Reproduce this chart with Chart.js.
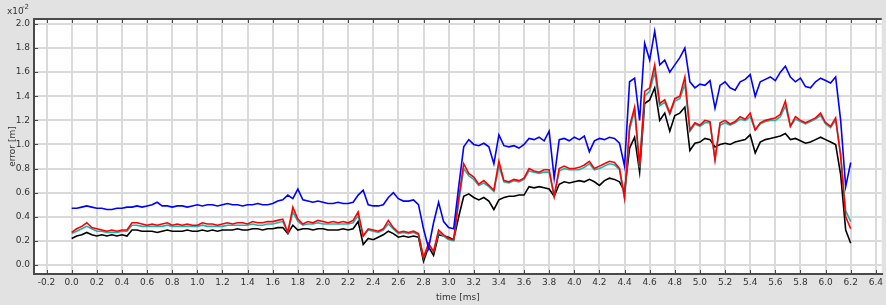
<!DOCTYPE html>
<html>
<head>
<meta charset="utf-8">
<script src="https://cdn.jsdelivr.net/npm/chart.js"></script>
<style>
  html, body { margin: 0; padding: 0; background: #e2e2e2; }
  canvas { display: block; }
</style>
</head>
<body>
<canvas id="myChart" width="886" height="305"></canvas>
<script>
// time [ms]
const time = [
  0.00,0.04,0.08,0.12,0.16,0.20,0.24,0.28,0.32,0.36,
  0.40,0.44,0.48,0.52,0.56,0.60,0.64,0.68,0.72,0.76,
  0.80,0.84,0.88,0.92,0.96,1.00,1.04,1.08,1.12,1.16,
  1.20,1.24,1.28,1.32,1.36,1.40,1.44,1.48,1.52,1.56,
  1.60,1.64,1.68,1.72,1.76,1.80,1.84,1.88,1.92,1.96,
  2.00,2.04,2.08,2.12,2.16,2.20,2.24,2.28,2.32,2.36,
  2.40,2.44,2.48,2.52,2.56,2.60,2.64,2.68,2.72,2.76,
  2.80,2.84,2.88,2.92,2.96,3.00,3.04,3.08,3.12,3.16,
  3.20,3.24,3.28,3.32,3.36,3.40,3.44,3.48,3.52,3.56,
  3.60,3.64,3.68,3.72,3.76,3.80,3.84,3.88,3.92,3.96,
  4.00,4.04,4.08,4.12,4.16,4.20,4.24,4.28,4.32,4.36,
  4.40,4.44,4.48,4.52,4.56,4.60,4.64,4.68,4.72,4.76,
  4.80,4.84,4.88,4.92,4.96,5.00,5.04,5.08,5.12,5.16,
  5.20,5.24,5.28,5.32,5.36,5.40,5.44,5.48,5.52,5.56,
  5.60,5.64,5.68,5.72,5.76,5.80,5.84,5.88,5.92,5.96,
  6.00,6.04,6.08,6.12,6.16,6.20
]

// error [m] x10^-2
const blueErr = [
  0.47,0.47,0.48,0.49,0.48,0.47,0.47,0.46,0.46,0.47,
  0.47,0.48,0.48,0.49,0.48,0.49,0.50,0.52,0.49,0.49,
  0.48,0.49,0.49,0.48,0.49,0.50,0.49,0.50,0.50,0.49,
  0.50,0.51,0.50,0.50,0.49,0.50,0.50,0.51,0.50,0.50,
  0.51,0.53,0.54,0.58,0.55,0.63,0.54,0.53,0.52,0.53,
  0.52,0.51,0.51,0.52,0.51,0.51,0.52,0.58,0.62,0.50,
  0.49,0.49,0.50,0.56,0.60,0.55,0.53,0.53,0.54,0.50,
  0.30,0.14,0.35,0.52,0.36,0.31,0.30,0.65,0.98,1.04,
  1.00,0.99,1.01,0.98,0.84,1.08,0.99,0.98,0.99,0.97,
  1.00,1.05,1.04,1.06,1.03,1.11,0.72,1.04,1.05,1.03,
  1.06,1.04,1.07,0.94,1.03,1.05,1.04,1.06,1.05,1.01,
  0.82,1.52,1.55,1.20,1.84,1.70,1.94,1.66,1.70,1.60,
  1.66,1.72,1.80,1.52,1.47,1.50,1.49,1.53,1.30,1.49,
  1.52,1.47,1.45,1.52,1.54,1.58,1.40,1.52,1.54,1.56,
  1.53,1.60,1.65,1.56,1.52,1.55,1.48,1.47,1.52,1.55,
  1.53,1.51,1.56,1.20,0.65,0.85
]

const redErr = [
  0.27,0.30,0.32,0.35,0.31,0.30,0.29,0.28,0.29,0.28,
  0.29,0.29,0.35,0.35,0.34,0.33,0.34,0.33,0.34,0.35,
  0.33,0.34,0.33,0.34,0.33,0.33,0.35,0.34,0.34,0.33,
  0.34,0.35,0.34,0.35,0.35,0.34,0.36,0.35,0.35,0.36,
  0.36,0.37,0.38,0.27,0.48,0.38,0.34,0.36,0.35,0.37,
  0.36,0.35,0.36,0.35,0.36,0.35,0.37,0.44,0.24,0.30,
  0.29,0.28,0.30,0.37,0.31,0.27,0.28,0.27,0.28,0.26,
  0.06,0.18,0.11,0.29,0.25,0.22,0.21,0.55,0.84,0.76,
  0.73,0.67,0.70,0.66,0.62,0.86,0.70,0.69,0.71,0.70,
  0.72,0.80,0.78,0.77,0.79,0.79,0.57,0.80,0.82,0.80,
  0.80,0.81,0.83,0.86,0.80,0.82,0.84,0.86,0.85,0.80,
  0.56,1.15,1.31,0.82,1.44,1.47,1.66,1.34,1.37,1.26,
  1.38,1.40,1.56,1.12,1.18,1.16,1.20,1.19,0.87,1.18,
  1.20,1.17,1.19,1.23,1.21,1.26,1.12,1.18,1.20,1.21,
  1.22,1.25,1.36,1.15,1.23,1.20,1.18,1.20,1.22,1.26,
  1.18,1.15,1.22,0.90,0.40,0.30
]

const tealErr = [
  0.26,0.28,0.30,0.32,0.30,0.28,0.28,0.27,0.27,0.27,
  0.28,0.28,0.33,0.33,0.32,0.32,0.32,0.32,0.32,0.33,
  0.32,0.32,0.32,0.32,0.32,0.32,0.33,0.32,0.32,0.32,
  0.32,0.33,0.33,0.33,0.33,0.33,0.34,0.33,0.33,0.34,
  0.34,0.35,0.36,0.27,0.44,0.36,0.33,0.34,0.34,0.35,
  0.34,0.34,0.34,0.34,0.34,0.34,0.35,0.41,0.24,0.29,
  0.28,0.27,0.29,0.34,0.30,0.26,0.27,0.26,0.27,0.25,
  0.06,0.17,0.11,0.27,0.24,0.21,0.20,0.52,0.80,0.74,
  0.71,0.66,0.68,0.65,0.61,0.82,0.69,0.68,0.70,0.69,
  0.71,0.78,0.77,0.76,0.77,0.77,0.57,0.78,0.80,0.79,
  0.79,0.79,0.81,0.84,0.79,0.80,0.82,0.84,0.83,0.79,
  0.55,1.12,1.28,0.81,1.40,1.44,1.60,1.32,1.35,1.25,
  1.36,1.38,1.50,1.11,1.17,1.15,1.18,1.18,0.88,1.16,
  1.18,1.16,1.18,1.21,1.20,1.23,1.12,1.17,1.19,1.20,
  1.20,1.23,1.32,1.15,1.21,1.19,1.17,1.19,1.21,1.24,
  1.17,1.14,1.20,0.92,0.45,0.36
]

const blackErr = [
  0.22,0.24,0.25,0.27,0.25,0.24,0.25,0.24,0.25,0.24,
  0.25,0.24,0.29,0.29,0.28,0.28,0.28,0.27,0.28,0.29,
  0.28,0.28,0.28,0.29,0.28,0.28,0.29,0.28,0.29,0.28,
  0.29,0.29,0.29,0.30,0.29,0.29,0.30,0.30,0.29,0.30,
  0.30,0.31,0.31,0.26,0.33,0.29,0.30,0.30,0.29,0.30,
  0.30,0.29,0.29,0.29,0.30,0.29,0.30,0.36,0.17,0.22,
  0.21,0.23,0.25,0.28,0.26,0.23,0.24,0.23,0.24,0.23,
  0.03,0.15,0.08,0.25,0.24,0.23,0.21,0.40,0.57,0.59,
  0.56,0.54,0.56,0.53,0.46,0.54,0.56,0.57,0.57,0.58,
  0.58,0.65,0.64,0.65,0.64,0.63,0.57,0.67,0.69,0.68,
  0.69,0.70,0.69,0.71,0.69,0.66,0.70,0.72,0.71,0.69,
  0.61,0.97,1.06,0.77,1.34,1.37,1.47,1.20,1.26,1.11,
  1.24,1.26,1.31,0.95,1.01,1.02,1.05,1.04,0.98,1.00,
  1.01,1.00,1.02,1.03,1.04,1.08,0.93,1.02,1.04,1.05,
  1.06,1.07,1.09,1.04,1.05,1.03,1.01,1.02,1.04,1.06,
  1.04,1.02,1.00,0.75,0.29,0.18
]

const xTicks = [-0.2,0.0,0.2,0.4,0.6,0.8,1.0,1.2,1.4,1.6,1.8,2.0,2.2,2.4,2.6,2.8,3.0,3.2,3.4,3.6,3.8,4.0,4.2,4.4,4.6,4.8,5.0,5.2,5.4,5.6,5.8,6.0,6.2,6.4]
const yTicks = [0.0,0.2,0.4,0.6,0.8,1.0,1.2,1.4,1.6,1.8,2.0]

const toPoints = arr => time.map((t, i) => ({ x: t, y: arr[i] }))

const tickFont = { family: 'DejaVu Sans', size: 9 }
const axisColor = '#4a4a4a'

// gray background, white plot, top axis + inner tick marks, x10^-2
const framePlugin = {
  id: 'frame',
  beforeDraw(chart) {
    const ctx = chart.ctx
    const a = chart.chartArea
    ctx.save()
    ctx.fillStyle = '#e2e2e2'
    ctx.fillRect(0, 0, chart.width, chart.height)
    ctx.fillStyle = '#ffffff'
    ctx.fillRect(a.left, a.top, a.right - a.left, a.bottom - a.top)
    ctx.restore()
  },
  afterDraw(chart) {
    const ctx = chart.ctx
    const a = chart.chartArea
    const xs = chart.scales.x
    const ys = chart.scales.y
    ctx.save()
    ctx.strokeStyle = axisColor
    ctx.lineWidth = 2
    ctx.beginPath()
    ctx.moveTo(a.left, a.top)
    ctx.lineTo(a.right, a.top)
    ctx.stroke()
    ctx.lineWidth = 1
    ctx.beginPath()
    xTicks.forEach(v => {
      const px = Math.round(xs.getPixelForValue(v)) + 0.5
      ctx.moveTo(px, a.bottom)
      ctx.lineTo(px, a.bottom - 4)
      ctx.moveTo(px, a.top)
      ctx.lineTo(px, a.top + 4)
    })
    yTicks.forEach(v => {
      const py = Math.round(ys.getPixelForValue(v)) + 0.5
      ctx.moveTo(a.left, py)
      ctx.lineTo(a.left + 4, py)
    })
    ctx.stroke()

    ctx.fillStyle = '#333'
    ctx.textBaseline = 'alphabetic'
    ctx.font = '9px "DejaVu Sans"'
    ctx.fillText('x10', 7, 14)
    ctx.font = '7px "DejaVu Sans"'
    ctx.fillText('-2', 22, 9)
    ctx.restore()
  }
}

const ctx = document.querySelector('#myChart').getContext('2d')

const myChart = new Chart(ctx, {
  type: 'line',
  data: {
    datasets: [
      { label: 'blue', data: toPoints(blueErr), borderColor: '#0000ff' },
      { label: 'red', data: toPoints(redErr), borderColor: '#ff0000' },
      { label: 'teal', data: toPoints(tealErr), borderColor: '#1fb0b0' },
      { label: 'black', data: toPoints(blackErr), borderColor: '#000000' }
    ]
  },
  options: {
    responsive: false,
    animation: false,
    datasets: {
      line: { borderWidth: 1.6, pointRadius: 0, tension: 0, fill: false }
    },
    layout: { padding: { top: 19, right: 0, left: 0, bottom: 0 } },
    plugins: {
      legend: { display: false },
      tooltip: { enabled: false }
    },
    scales: {
      x: {
        type: 'linear',
        min: -0.3,
        max: 6.447,
        afterBuildTicks: scale => { scale.ticks = xTicks.map(v => ({ value: v })) },
        afterFit: scale => { scale.height = 31 },
        ticks: {
          padding: 3,
          color: '#333',
          font: tickFont,
          maxRotation: 0,
          autoSkip: false,
          callback: v => v.toFixed(1)
        },
        grid: { color: '#dadada', lineWidth: 2, drawTicks: false },
        border: { display: true, color: axisColor, width: 2 },
        title: {
          display: true,
          text: 'time [ms]',
          color: '#333',
          font: { family: 'DejaVu Sans', size: 9 },
          padding: { top: 0, bottom: 2 }
        }
      },
      y: {
        type: 'linear',
        min: -0.075,
        max: 2.041,
        afterBuildTicks: scale => { scale.ticks = yTicks.map(v => ({ value: v })) },
        afterFit: scale => { scale.width = 34 },
        ticks: {
          padding: 4,
          color: '#333',
          font: tickFont,
          autoSkip: false,
          callback: v => v.toFixed(1)
        },
        grid: { color: '#dadada', lineWidth: 2, drawTicks: false },
        border: { display: true, color: axisColor, width: 2 },
        title: {
          display: true,
          text: 'error [m]',
          color: '#333',
          font: { family: 'DejaVu Sans', size: 9 },
          padding: { top: 7, bottom: 0 }
        }
      }
    }
  },
  plugins: [framePlugin]
})
</script>
</body>
</html>
